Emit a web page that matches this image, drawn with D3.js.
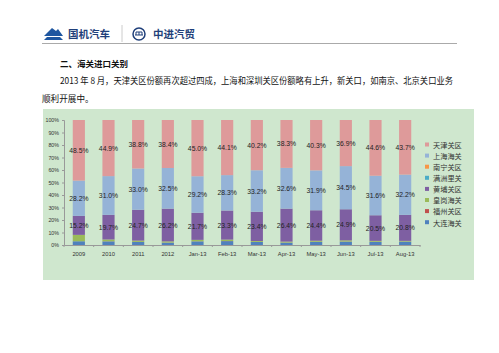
<!DOCTYPE html>
<html><head><meta charset="utf-8">
<script src="https://cdn.jsdelivr.net/npm/d3@7/dist/d3.min.js"></script>
<style>body{margin:0;background:#fff}svg{display:block}</style>
</head><body>
<svg id="c" width="499" height="353"></svg>
<script>
const categories = ["2009","2010","2011","2012","Jan-13","Feb-13","Mar-13","Apr-13","May-13","Jun-13","Jul-13","Aug-13"];
const dalian     = [3.0,2.9,2.4,1.9,2.9,3.1,2.4,1.9,2.5,2.7,2.5,2.7];
const fuzhou     = [0.0,0.1,0.1,0.1,0.1,0.1,0.1,0.1,0.1,0.1,0.1,0.1];
const huanggang  = [5.1,1.4,1.0,0.9,1.1,1.1,0.7,0.7,0.8,0.9,0.7,0.5];
const huangpu    = [15.2,19.7,24.7,26.2,21.7,23.3,23.4,26.4,24.4,24.9,20.5,20.8];
const manzhouli  = [0.0,0.0,0.0,0.0,0.0,0.0,0.0,0.0,0.0,0.0,0.0,0.0];
const nanning    = [0.0,0.0,0.0,0.0,0.0,0.0,0.0,0.0,0.0,0.0,0.0,0.0];
const shanghai   = [28.2,31.0,33.0,32.5,29.2,28.3,33.2,32.6,31.9,34.5,31.6,32.2];
const tianjin    = [48.5,44.9,38.8,38.4,45.0,44.1,40.2,38.3,40.3,36.9,44.6,43.7];
const yTicks = [0,10,20,30,40,50,60,70,80,90,100];

const series = [
  {name:"大连海关", values:dalian,    color:"#4F81BD", label:false},
  {name:"福州关区", values:fuzhou,    color:"#C0504D", label:false},
  {name:"皇岗海关", values:huanggang, color:"#9BBB59", label:false},
  {name:"黄埔关区", values:huangpu,   color:"#7E5FA2", label:true},
  {name:"满洲里关", values:manzhouli, color:"#4BACC6", label:false},
  {name:"南宁关区", values:nanning,   color:"#F79646", label:false},
  {name:"上海海关", values:shanghai,  color:"#95B3D7", label:true},
  {name:"天津关区", values:tianjin,   color:"#DE9A9A", label:true}
];

const svg = d3.select("#c");
const cjk = "'Noto Sans CJK SC','Noto Sans',sans-serif";

// header
const g0 = svg.append("g");
g0.append("path").attr("d","M44,36 L52,28 L56,31 L58,29 L63,36 Z").attr("fill","#1E56A0");
g0.append("path").attr("d","M44,40 L63,40 L60,37 L47,37 Z").attr("fill","#1E56A0");
g0.append("text").attr("x",68).attr("y",38).text("国机汽车")
  .attr("font-family",cjk).attr("font-weight","bold").attr("font-size",10.5).attr("fill","#1F3F7A");
g0.append("line").attr("x1",122).attr("x2",122).attr("y1",25).attr("y2",42).attr("stroke","#ccc");
g0.append("circle").attr("cx",139).attr("cy",34).attr("r",6).attr("fill","none").attr("stroke","#1F3F7A").attr("stroke-width",1.5);
g0.append("path").attr("d","M135,35 L143,35 M136,35 L136,32 L142,32 L142,35 M139,32 L139,35").attr("stroke","#1F3F7A").attr("fill","none").attr("stroke-width",1);
g0.append("text").attr("x",153).attr("y",38).text("中进汽贸")
  .attr("font-family",cjk).attr("font-weight","bold").attr("font-size",10.5).attr("fill","#1F3F7A");
g0.append("line").attr("x1",42).attr("x2",457).attr("y1",43.5).attr("y2",43.5).attr("stroke","#aaa").attr("stroke-width",1);

svg.append("text").attr("x",60).attr("y",67).text("二、海关进口关别")
  .attr("font-family",cjk).attr("font-weight","bold").attr("font-size",8.5).attr("fill","#111");
svg.append("text").attr("x",60).attr("y",84).text("2013 年 8 月，天津关区份额再次超过四成，上海和深圳关区份额略有上升，新关口，如南京、北京关口业务")
  .attr("font-family",cjk).attr("font-size",8.6).attr("fill","#111").attr("textLength",393).attr("lengthAdjust","spacingAndGlyphs");
svg.append("text").attr("x",42).attr("y",102).text("顺利开展中。")
  .attr("font-family",cjk).attr("font-size",8.6).attr("fill","#111");

// panel
svg.append("rect").attr("x",43).attr("y",109).attr("width",431).attr("height",171).attr("fill","#CFE7CE");

const x = d3.scaleBand().domain(categories).range([64,420]).paddingInner(0.59).paddingOuter(0.295);
const y = d3.scaleLinear().domain([0,100]).range([245,120]);

const stackData = categories.map((c,i)=>{const o={cat:c}; series.forEach(s=>o[s.name]=s.values[i]); return o;});
const stack = d3.stack().keys(series.map(s=>s.name))(stackData);

const gb = svg.append("g");
stack.forEach((layer,k)=>{
  gb.selectAll(null).data(layer).enter().append("rect")
    .attr("x",d=>x(d.data.cat)).attr("width",x.bandwidth())
    .attr("y",d=>y(d[1])).attr("height",d=>Math.max(0,y(d[0])-y(d[1])))
    .attr("fill",series[k].color);
});
stack.forEach((layer,k)=>{
  if(!series[k].label) return;
  gb.selectAll(null).data(layer).enter().append("text")
    .attr("x",d=>x(d.data.cat)+x.bandwidth()/2).attr("y",d=>y((d[0]+d[1])/2)+2.5)
    .attr("text-anchor","middle").attr("font-family","'Liberation Sans',Arial,sans-serif").attr("font-size",6.8).attr("fill","#222")
    .text(d=>(d[1]-d[0]).toFixed(1)+"%");
});

// y axis
const ya = svg.append("g").attr("transform","translate(64,0)")
  .call(d3.axisLeft(y).tickValues(yTicks).tickFormat(d=>d+"%").tickSize(2).tickPadding(3));
ya.select(".domain").attr("stroke","#999");
ya.selectAll(".tick line").attr("stroke","#999");
ya.selectAll("text").attr("font-family","'Liberation Sans',Arial,sans-serif").attr("font-size",5.3).attr("fill","#333");

// x axis
const xa = svg.append("g").attr("transform","translate(0,245)")
  .call(d3.axisBottom(x).tickSize(0).tickPadding(7));
xa.select(".domain").attr("stroke","#999");
xa.selectAll("text").attr("font-family","'Liberation Sans',Arial,sans-serif").attr("font-size",5.8).attr("fill","#333");
// bounding ticks between categories
const step = x.step();
svg.append("g").selectAll("line").data(d3.range(categories.length+1)).enter().append("line")
  .attr("x1",i=>64+i*step).attr("x2",i=>64+i*step).attr("y1",245).attr("y2",247).attr("stroke","#999");

// legend
const legendOrder = series.slice().reverse();
const lg = svg.append("g");
legendOrder.forEach((s,i)=>{
  const yy = 145 + i*11.1;
  lg.append("rect").attr("x",425).attr("y",yy-2.5).attr("width",4).attr("height",4).attr("fill",s.color);
  lg.append("text").attr("x",433).attr("y",yy+2.8).text(s.name)
    .attr("font-family",cjk).attr("font-size",7.2).attr("fill","#333");
});
</script>
</body></html>
